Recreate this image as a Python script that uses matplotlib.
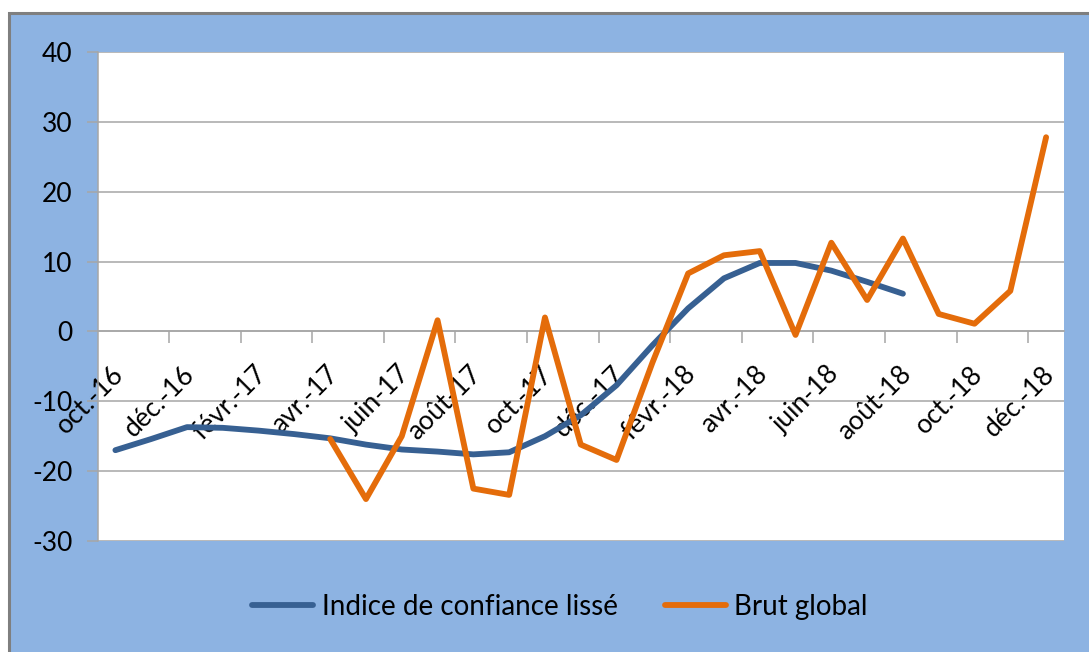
import matplotlib
matplotlib.use("Agg")
import matplotlib.pyplot as plt
import numpy as np
from matplotlib.patches import Rectangle

plt.rcParams["font.family"] = ["Lato", "DejaVu Sans"]
plt.rcParams["axes.unicode_minus"] = False

# --------------------------------------------------
# Data
# --------------------------------------------------

months = [
    "oct.-16", "nov.-16", "déc.-16", "janv.-17", "févr.-17", "mars-17",
    "avr.-17", "mai-17", "juin-17", "juil.-17", "août-17", "sept.-17",
    "oct.-17", "nov.-17", "déc.-17", "janv.-18", "févr.-18", "mars-18",
    "avr.-18", "mai-18", "juin-18", "juil.-18", "août-18", "sept.-18",
    "oct.-18", "nov.-18", "déc.-18",
]

indice_lisse = [
    -17.0, -15.4, -13.7, -13.8, -14.2, -14.7, -15.3, -16.2, -16.9, -17.2,
    -17.6, -17.3, -15.0, -12.0, -7.7, -2.0, 3.3, 7.6, 9.8, 9.8,
    8.7, 7.1, 5.4, None, None, None, None,
]

brut_global = [
    None, None, None, None, None, None, -15.4, -24.0, -15.0, 1.6,
    -22.5, -23.4, 2.0, -16.2, -18.4, -4.5, 8.3, 10.9, 11.5, -0.5,
    12.7, 4.5, 13.3, 2.5, 1.1, 5.8, 27.8,
]

series_names = ["Indice de confiance lissé", "Brut global"]

# --------------------------------------------------
# Figure
# --------------------------------------------------

W, H = 1089, 652
fig = plt.figure(figsize=(W / 100, H / 100), dpi=100)
fig.patch.set_facecolor("white")

bg = Rectangle(
    (9 / W, -0.05), 1.1, (H - 13) / H + 0.05,
    transform=fig.transFigure,
    facecolor="#8DB3E2", edgecolor="#7F7F7F", linewidth=2.2,
    zorder=-5,
)
fig.patches.append(bg)

ax = fig.add_axes([97.5 / W, 1 - 541 / H, (1064 - 97.5) / W, (541 - 52) / H])
ax.set_zorder(2)
ax.set_facecolor("white")

x = np.arange(len(months))
blue = np.array([np.nan if v is None else v for v in indice_lisse])
orange = np.array([np.nan if v is None else v for v in brut_global])

line_blue, = ax.plot(x, blue, color="#376092", lw=4.2, solid_capstyle="round",
                     label=series_names[0], zorder=3)
line_orange, = ax.plot(x, orange, color="#E46C0A", lw=4.2, solid_capstyle="round",
                       label=series_names[1], zorder=4)

ax.set_xlim(-0.5, len(months) - 0.5)
ax.set_ylim(-30, 40)

# y axis
ax.set_yticks(np.arange(-30, 41, 10))
ax.yaxis.grid(True, color="#A6A6A6", lw=1.1)
ax.set_axisbelow(True)
ax.tick_params(axis="y", length=8, width=1.1, color="#A6A6A6",
               labelsize=19, pad=10)

for side in ["top", "right"]:
    ax.spines[side].set_visible(False)
ax.spines["left"].set_color("#A6A6A6")
ax.spines["left"].set_linewidth(1.1)
ax.spines["bottom"].set_position(("data", 0))
ax.spines["bottom"].set_color("#A6A6A6")
ax.spines["bottom"].set_linewidth(1.1)

# x axis: ticks between categories, labels every second month
ax.set_xticks(np.arange(1.5, len(months) - 1, 2))
ax.set_xticklabels([])
ax.tick_params(axis="x", length=8.5, width=1.1, color="#A6A6A6", direction="out")

for i in range(0, len(months), 2):
    ax.annotate(
        months[i], xy=(i, 0), xytext=(3, -28),
        textcoords="offset points",
        rotation=45, rotation_mode="anchor",
        ha="right", va="center", fontsize=19, zorder=2,
    )

# --------------------------------------------------
# Legend
# --------------------------------------------------

fig.legend(
    handles=[line_blue, line_orange],
    loc="center", bbox_to_anchor=(560 / W, 1 - 607 / H),
    ncol=2, frameon=False, fontsize=20,
    handlelength=2.2, handletextpad=0.3, columnspacing=1.7,
)

fig.savefig("out.png", dpi=100, facecolor=fig.get_facecolor())
